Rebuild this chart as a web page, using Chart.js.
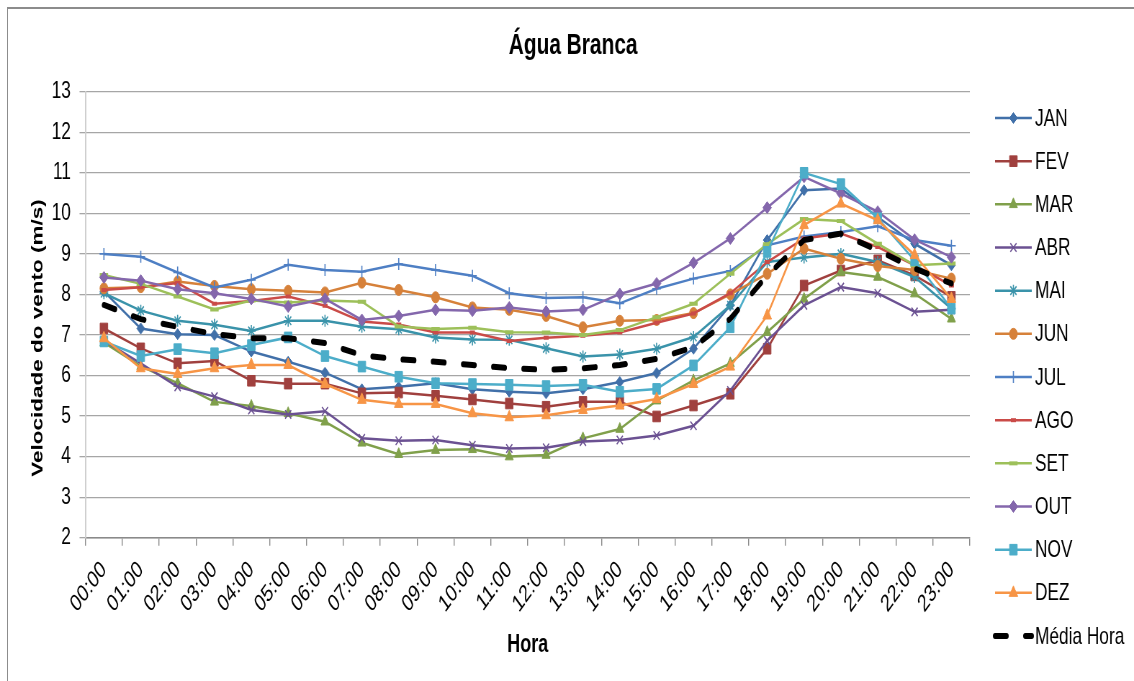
<!DOCTYPE html>
<html>
<head>
<meta charset="utf-8">
<title>Água Branca</title>
<script src="https://cdn.jsdelivr.net/npm/chart.js@4.4.0/dist/chart.umd.min.js"></script>
<style>
  html, body { margin: 0; padding: 0; background: #fff; overflow: hidden; }
  #frame {
    position: absolute; left: 7px; top: 7px; width: 1200px; height: 800px;
    border-top: 2px solid #8c8c8c; border-left: 1px solid #8c8c8c;
  }
  /* the original picture is squeezed sideways, so draw wide and squeeze */
  #wrap { position: absolute; left: 0; top: 0; transform: scaleX(0.72); transform-origin: 0 0; }
</style>
</head>
<body>
<div id="frame"></div>
<div id="wrap"><canvas id="chart" width="1575" height="681"></canvas></div>
<script>
// --- Data ---
const TITLE = "Água Branca";
const Y_TITLE = "Velocidade do vento (m/s)";
const X_TITLE = "Hora";
const HOURS = ["00:00", "01:00", "02:00", "03:00", "04:00", "05:00", "06:00", "07:00",
  "08:00", "09:00", "10:00", "11:00", "12:00", "13:00", "14:00", "15:00",
  "16:00", "17:00", "18:00", "19:00", "20:00", "21:00", "22:00", "23:00"];
const SERIES_NAMES = ["JAN", "FEV", "MAR", "ABR", "MAI", "JUN", "JUL", "AGO", "SET", "OUT", "NOV", "DEZ", "Média Hora"];

const JAN = [8.07, 7.16, 7.02, 7.00, 6.59, 6.34, 6.07, 5.66, 5.72, 5.81, 5.66, 5.60, 5.56, 5.66, 5.84, 6.06, 6.66, 7.73, 9.34, 10.57, 10.61, 9.91, 9.25, 8.72];
const FEV = [7.16, 6.67, 6.30, 6.36, 5.87, 5.80, 5.80, 5.56, 5.58, 5.50, 5.41, 5.31, 5.23, 5.35, 5.35, 4.99, 5.26, 5.55, 6.66, 8.22, 8.59, 8.84, 8.47, 7.94];
const MAR = [6.81, 6.23, 5.81, 5.35, 5.25, 5.07, 4.86, 4.34, 4.06, 4.16, 4.18, 4.00, 4.04, 4.45, 4.68, 5.38, 5.88, 6.30, 7.07, 7.89, 8.55, 8.43, 8.02, 7.40];
const ABR = [6.86, 6.30, 5.72, 5.48, 5.15, 5.04, 5.12, 4.45, 4.39, 4.41, 4.28, 4.20, 4.22, 4.37, 4.41, 4.52, 4.76, 5.63, 6.86, 7.73, 8.18, 8.03, 7.57, 7.62];
const MAI = [8.03, 7.60, 7.35, 7.25, 7.10, 7.35, 7.35, 7.20, 7.14, 6.94, 6.89, 6.88, 6.67, 6.47, 6.52, 6.66, 6.95, 7.73, 8.80, 8.91, 9.00, 8.80, 8.43, 7.65];
const JUN = [8.15, 8.18, 8.32, 8.21, 8.13, 8.09, 8.05, 8.29, 8.11, 7.93, 7.68, 7.62, 7.47, 7.19, 7.35, 7.37, 7.54, 8.00, 8.51, 9.13, 8.88, 8.70, 8.60, 8.39];
const JUL = [9.00, 8.93, 8.54, 8.17, 8.36, 8.73, 8.60, 8.56, 8.75, 8.60, 8.46, 8.03, 7.91, 7.93, 7.78, 8.14, 8.39, 8.58, 9.21, 9.43, 9.54, 9.68, 9.34, 9.20];
const AGO = [8.11, 8.18, 8.28, 7.77, 7.84, 7.95, 7.72, 7.33, 7.26, 7.06, 7.06, 6.85, 6.93, 6.98, 7.06, 7.30, 7.53, 8.03, 8.80, 9.38, 9.50, 9.17, 8.72, 8.22];
const SET = [8.48, 8.26, 7.95, 7.63, 7.85, 7.80, 7.85, 7.82, 7.21, 7.15, 7.18, 7.07, 7.06, 7.00, 7.12, 7.44, 7.77, 8.51, 9.24, 9.86, 9.81, 9.25, 8.72, 8.76];
const OUT = [8.42, 8.34, 8.13, 8.03, 7.89, 7.70, 7.89, 7.37, 7.47, 7.62, 7.60, 7.68, 7.58, 7.62, 8.01, 8.27, 8.78, 9.38, 10.14, 10.90, 10.49, 10.04, 9.35, 8.92];
const NOV = [6.84, 6.48, 6.65, 6.55, 6.75, 6.94, 6.48, 6.22, 5.97, 5.81, 5.79, 5.77, 5.74, 5.77, 5.60, 5.67, 6.25, 7.19, 9.05, 11.00, 10.72, 9.88, 8.84, 7.65];
const DEZ = [6.92, 6.18, 6.04, 6.18, 6.26, 6.26, 5.79, 5.40, 5.30, 5.30, 5.07, 4.97, 5.02, 5.15, 5.26, 5.42, 5.79, 6.22, 7.48, 9.71, 10.24, 9.83, 8.97, 7.89];
const MEDIA = [7.74, 7.39, 7.20, 7.02, 6.92, 6.92, 6.80, 6.50, 6.40, 6.34, 6.26, 6.18, 6.14, 6.18, 6.26, 6.41, 6.70, 7.40, 8.47, 9.34, 9.50, 9.09, 8.64, 8.27];

const SERIES_VALUES = [JAN, FEV, MAR, ABR, MAI, JUN, JUL, AGO, SET, OUT, NOV, DEZ, MEDIA];

// --- Styles (Excel 2007 look) ---
const FONT = '"Liberation Sans", Arial, sans-serif';
const STYLES = [
  { color: "#4170a9", point: "rectRot", r: 5.5, bw: 1 },
  { color: "#a0403e", point: "rect", r: 7.5, bw: 1 },
  { color: "#80a04b", point: "triangle", r: 6.5, bw: 1 },
  { color: "#6b5192", point: "crossRot", r: 6, bw: 1.6 },
  { color: "#3a93aa", point: "star", r: 6, bw: 1.6 },
  { color: "#d6813a", point: "circle", r: 5.5, bw: 1 },
  { color: "#4e7fc4", point: "cross", r: 6, bw: 1.6 },
  { color: "#ca4b48", point: "line", r: 3.5, bw: 4 },
  { color: "#9dc05a", point: "line", r: 5.8, bw: 4 },
  { color: "#8467ac", point: "rectRot", r: 6, bw: 1 },
  { color: "#4cadc9", point: "rect", r: 7.5, bw: 1 },
  { color: "#f79546", point: "triangle", r: 7, bw: 1 },
  { color: "#000000", point: false, r: 0, bw: 0, width: 6, dash: [16, 26] },
];

const LEGEND_TOP = 118;
const LEGEND_STEP = 43.17;
const LEGEND_LINE = [1382, 1433];
const LEGEND_TEXT_X = 1437.5;

// --- Titles and side legend ---
const extrasPlugin = {
  id: "extras",
  afterDraw(chart) {
    const ctx = chart.ctx;
    ctx.save();
    ctx.fillStyle = "#000";
    ctx.textAlign = "center";
    ctx.textBaseline = "middle";
    ctx.font = "bold 29px " + FONT;
    ctx.fillText(TITLE, 796, 46);
    ctx.translate(52.8, 338);
    ctx.rotate(-Math.PI / 2);
    ctx.font = "bold 22.5px " + FONT;
    ctx.fillText(Y_TITLE, 0, 0);
    ctx.restore();

    chart.data.datasets.forEach((ds, i) => {
      const y = LEGEND_TOP + i * LEGEND_STEP;
      ctx.save();
      ctx.strokeStyle = ds.borderColor;
      ctx.lineWidth = ds.borderWidth;
      ctx.lineCap = ds.borderCapStyle || "butt";
      ctx.setLineDash(ds.borderDash || []);
      ctx.beginPath();
      ctx.moveTo(LEGEND_LINE[0], y);
      ctx.lineTo(LEGEND_LINE[1], y);
      ctx.stroke();
      ctx.setLineDash([]);
      if (ds.pointRadius > 0) {
        ctx.fillStyle = ds.pointBackgroundColor;
        ctx.strokeStyle = ds.pointBorderColor;
        ctx.lineWidth = ds.pointBorderWidth;
        ctx.lineCap = "butt";
        Chart.helpers.drawPoint(ctx, {
          pointStyle: ds.pointStyle, radius: ds.pointRadius,
          borderWidth: ds.pointBorderWidth, rotation: 0,
        }, (LEGEND_LINE[0] + LEGEND_LINE[1]) / 2, y);
      }
      ctx.fillStyle = "#000";
      ctx.font = "24px " + FONT;
      ctx.textAlign = "left";
      ctx.textBaseline = "middle";
      ctx.fillText(ds.label, LEGEND_TEXT_X, y + 1);
      ctx.restore();
    });
  },
};

const datasets = SERIES_NAMES.map((name, i) => {
  const st = STYLES[i];
  return {
    label: name,
    data: SERIES_VALUES[i],
    borderColor: st.color,
    backgroundColor: st.color,
    borderWidth: st.width || 2.5,
    borderDash: st.dash || [],
    borderCapStyle: st.dash ? "round" : "butt",
    tension: 0,
    pointStyle: st.point,
    pointRadius: st.r,
    pointHoverRadius: st.r,
    pointBorderWidth: st.bw,
    pointBackgroundColor: st.color,
    pointBorderColor: st.color,
    order: -i, // later series on top, like Excel
  };
});

new Chart(document.getElementById("chart"), {
  type: "line",
  data: { labels: HOURS, datasets },
  options: {
    responsive: false,
    animation: false,
    layout: { padding: { top: 91.7, right: 228, bottom: 0, left: 0 } },
    plugins: {
      legend: { display: false },
      title: { display: false },
      tooltip: { enabled: false },
    },
    scales: {
      x: {
        offset: true,
        grid: { offset: true, drawOnChartArea: false, tickLength: 8, color: "#8a8a8a", lineWidth: 1.4 },
        border: { color: "#8a8a8a", width: 1.5 },
        ticks: {
          autoSkip: false, minRotation: 45, maxRotation: 45, padding: 10,
          color: "#000", font: { family: FONT, size: 24 },
        },
        title: {
          display: true, text: X_TITLE, color: "#000",
          font: { family: FONT, size: 25, weight: "bold" },
          padding: { top: 0, bottom: 21 },
        },
        afterFit: (scale) => { scale.height = 143.3; },
      },
      y: {
        min: 2,
        max: 13,
        grid: { color: "#a6a6a6", lineWidth: 1.3, tickLength: 8.3 },
        border: { color: "#cfcfcf", width: 2 },
        ticks: { stepSize: 1, padding: 12, color: "#000", font: { family: FONT, size: 24 } },
        afterFit: (scale) => { scale.width = 118.75; },
      },
    },
  },
  plugins: [extrasPlugin],
});
</script>
</body>
</html>
